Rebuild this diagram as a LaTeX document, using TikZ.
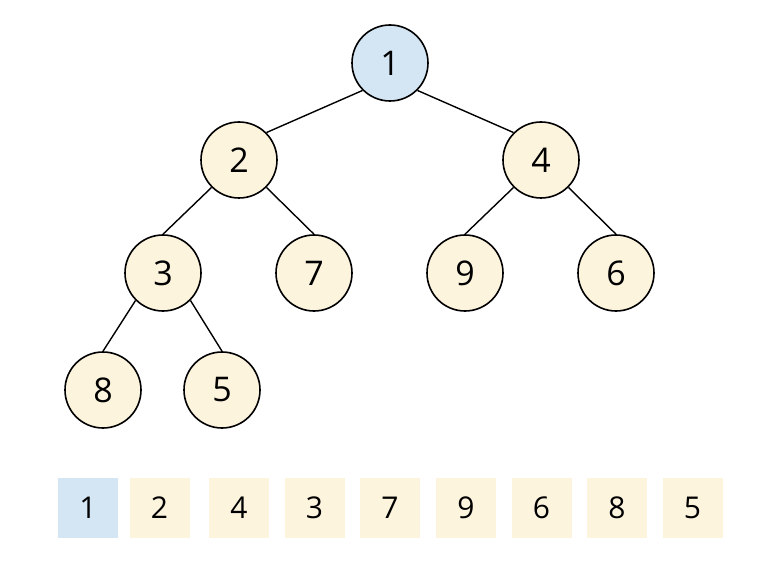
\documentclass[tikz,border=0pt]{standalone}
\usepackage{fontspec}
\setmainfont{Open Sans}
\definecolor{rootblue}{HTML}{D4E5F3}
\definecolor{beige}{HTML}{FDF4DE}
\begin{document}
\begin{tikzpicture}[x=1pt,y=-1pt,
  tnode/.style={circle,draw=black,line width=1.6pt,fill=beige,minimum size=76pt,inner sep=0pt,font=\fontsize{34}{34}\selectfont},
  rnode/.style={tnode,fill=rootblue},
  cell/.style={rectangle,fill=beige,minimum size=60pt,inner sep=0pt,font=\fontsize{30}{30}\selectfont},
  rcell/.style={cell,fill=rootblue},
  edge/.style={line width=1.4pt}]
\useasboundingbox (0,0) rectangle (758,572);
\node[rnode] (n1) at (390,63) {1};
\node[tnode] (n2) at (239,160) {2};
\node[tnode] (n4) at (541,160) {4};
\node[tnode] (n3) at (163,273) {3};
\node[tnode] (n7) at (314,273) {7};
\node[tnode] (n9) at (465,273) {9};
\node[tnode] (n6) at (616,273) {6};
\node[tnode] (n8) at (103,390) {8};
\node[tnode] (n5) at (222,390) {5};
\draw[edge] (n1.south west) -- (n2.north east);
\draw[edge] (n1.south east) -- (n4.north west);
\draw[edge] (n2.south west) -- (n3.north);
\draw[edge] (n2.south east) -- (n7.north);
\draw[edge] (n4.south west) -- (n9.north);
\draw[edge] (n4.south east) -- (n6.north);
\draw[edge] (n3.south west) -- (n8.north);
\draw[edge] (n3.south east) -- (n5.north);
\node[rcell] (a1) at (88,508) {1};
\node[cell] (a2) at (159.5,508) {2};
\node[cell] (a3) at (239,508) {4};
\node[cell] (a4) at (314.5,508) {3};
\node[cell] (a5) at (390,508) {7};
\node[cell] (a6) at (466,508) {9};
\node[cell] (a7) at (541.5,508) {6};
\node[cell] (a8) at (617,508) {8};
\node[cell] (a9) at (692.5,508) {5};
\end{tikzpicture}
\end{document}
